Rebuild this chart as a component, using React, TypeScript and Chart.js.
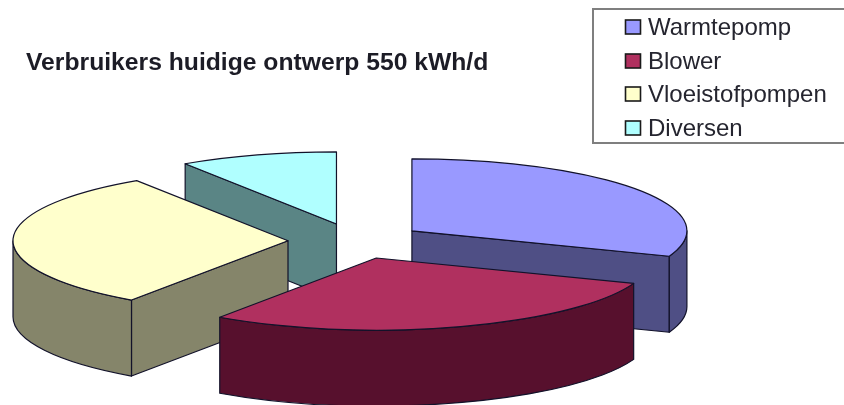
import { useEffect, useRef } from "react";
import { Chart, registerables } from "chart.js";

Chart.register(...registerables);

// Daily consumption per consumer, kWh/d (total 550)
const consumers = ["Warmtepomp", "Blower", "Vloeistofpompen", "Diversen"];
const kwhPerDay = [169, 159, 171, 51];
const topColors = ["#9999FF", "#B0305F", "#FFFFCC", "#B0FFFF"];
const wallColors = ["#4F4F85", "#57102D", "#85856A", "#5A8585"];
const chartTitle = "Verbruikers huidige ontwerp 550 kWh/d";

// Slices are painted from the rear of the pie towards the viewer
const paintOrder = [3, 0, 2, 1];

const PIE_CENTER_X = 356;
const PIE_CENTER_Y = 241;
const PIE_RADIUS = 275;
const EXPLODE = 68;
const TILT = 0.262;
const DEPTH = 76;
const OUTLINE = "#12122a";

const pie3d = {
  id: "pie3d",
  beforeDatasetDraw(chart: any, args: any) {
    const { ctx } = chart;
    const arcs = args.meta.data;
    ctx.save();
    ctx.lineWidth = 1.2;
    ctx.strokeStyle = OUTLINE;
    ctx.lineJoin = "round";
    for (const i of paintOrder) {
      const arc = arcs[i];
      const a = arc.startAngle;
      const b = arc.endAngle;
      const mid = (a + b) / 2;
      const ax = PIE_CENTER_X + Math.cos(mid) * EXPLODE;
      const ay = PIE_CENTER_Y + Math.sin(mid) * EXPLODE * TILT;
      const rx = arc.outerRadius;
      const ry = rx * TILT;
      const tip = (t: number) => [ax + Math.cos(t) * rx, ay + Math.sin(t) * ry];

      ctx.fillStyle = wallColors[i];
      // Radial cut faces that look towards the viewer
      const faces: number[] = [];
      if (-Math.cos(a) > 1e-6) faces.push(a);
      if (Math.cos(b) > 1e-6) faces.push(b);
      for (const t of faces) {
        const [x, y] = tip(t);
        ctx.beginPath();
        ctx.moveTo(ax, ay);
        ctx.lineTo(x, y);
        ctx.lineTo(x, y + DEPTH);
        ctx.lineTo(ax, ay + DEPTH);
        ctx.closePath();
        ctx.fill();
        ctx.stroke();
      }
      // Rim: only the front half of the ellipse can be seen
      const s = Math.max(a, 0);
      const e = Math.min(b, Math.PI);
      if (e > s) {
        ctx.beginPath();
        ctx.ellipse(ax, ay, rx, ry, 0, s, e);
        ctx.ellipse(ax, ay + DEPTH, rx, ry, 0, e, s, true);
        ctx.closePath();
        ctx.fill();
        ctx.stroke();
      }
      // Top surface: the library's own arc, squashed by the tilt
      ctx.save();
      ctx.translate(ax, ay);
      ctx.scale(1, TILT);
      ctx.translate(-arc.x, -arc.y);
      arc.draw(ctx);
      ctx.restore();
      // Outline stroked in screen space so its width stays even
      const [sx, sy] = tip(a);
      ctx.beginPath();
      ctx.moveTo(ax, ay);
      ctx.lineTo(sx, sy);
      ctx.ellipse(ax, ay, rx, ry, 0, a, b);
      ctx.closePath();
      ctx.stroke();
    }
    ctx.restore();
    return false;
  },
  afterDraw(chart: any) {
    const { ctx } = chart;
    const labels: string[] = chart.data.labels;
    const rows = [27, 61, 94, 128];
    ctx.save();
    ctx.strokeStyle = "#7f7f7f";
    ctx.lineWidth = 2;
    ctx.strokeRect(593, 9, 260, 134);
    ctx.font = '24px "Liberation Sans"';
    ctx.textBaseline = "middle";
    labels.forEach((label, i) => {
      ctx.fillStyle = topColors[i];
      ctx.strokeStyle = "#1a1a1a";
      ctx.lineWidth = 1.6;
      ctx.fillRect(625.5, rows[i] - 7, 15, 14);
      ctx.strokeRect(625.5, rows[i] - 7, 15, 14);
      ctx.fillStyle = "#25252f";
      ctx.fillText(label, 648, rows[i] + 1);
    });
    ctx.restore();
  },
};

export default function App() {
  const canvasRef = useRef<HTMLCanvasElement>(null);

  useEffect(() => {
    const chart = new Chart(canvasRef.current as HTMLCanvasElement, {
      type: "pie",
      data: {
        labels: consumers,
        datasets: [
          {
            data: kwhPerDay,
            backgroundColor: topColors,
            borderWidth: 0,
            radius: PIE_RADIUS,
          },
        ],
      },
      options: {
        responsive: false,
        animation: false,
        events: [],
        layout: { padding: { left: 26, top: 48 } },
        plugins: {
          legend: { display: false },
          tooltip: { enabled: false },
          title: {
            display: true,
            text: chartTitle,
            align: "start",
            color: "#1c1c26",
            font: { family: '"Liberation Sans"', size: 24.7, weight: "bold" },
            padding: 0,
          },
        },
      },
      plugins: [pie3d],
    } as any);
    return () => chart.destroy();
  }, []);

  return (
    <div style={{ position: "fixed", left: 0, top: 0, width: 844, height: 405, background: "#fff" }}>
      <canvas ref={canvasRef} width={844} height={405} style={{ display: "block" }} />
    </div>
  );
}
